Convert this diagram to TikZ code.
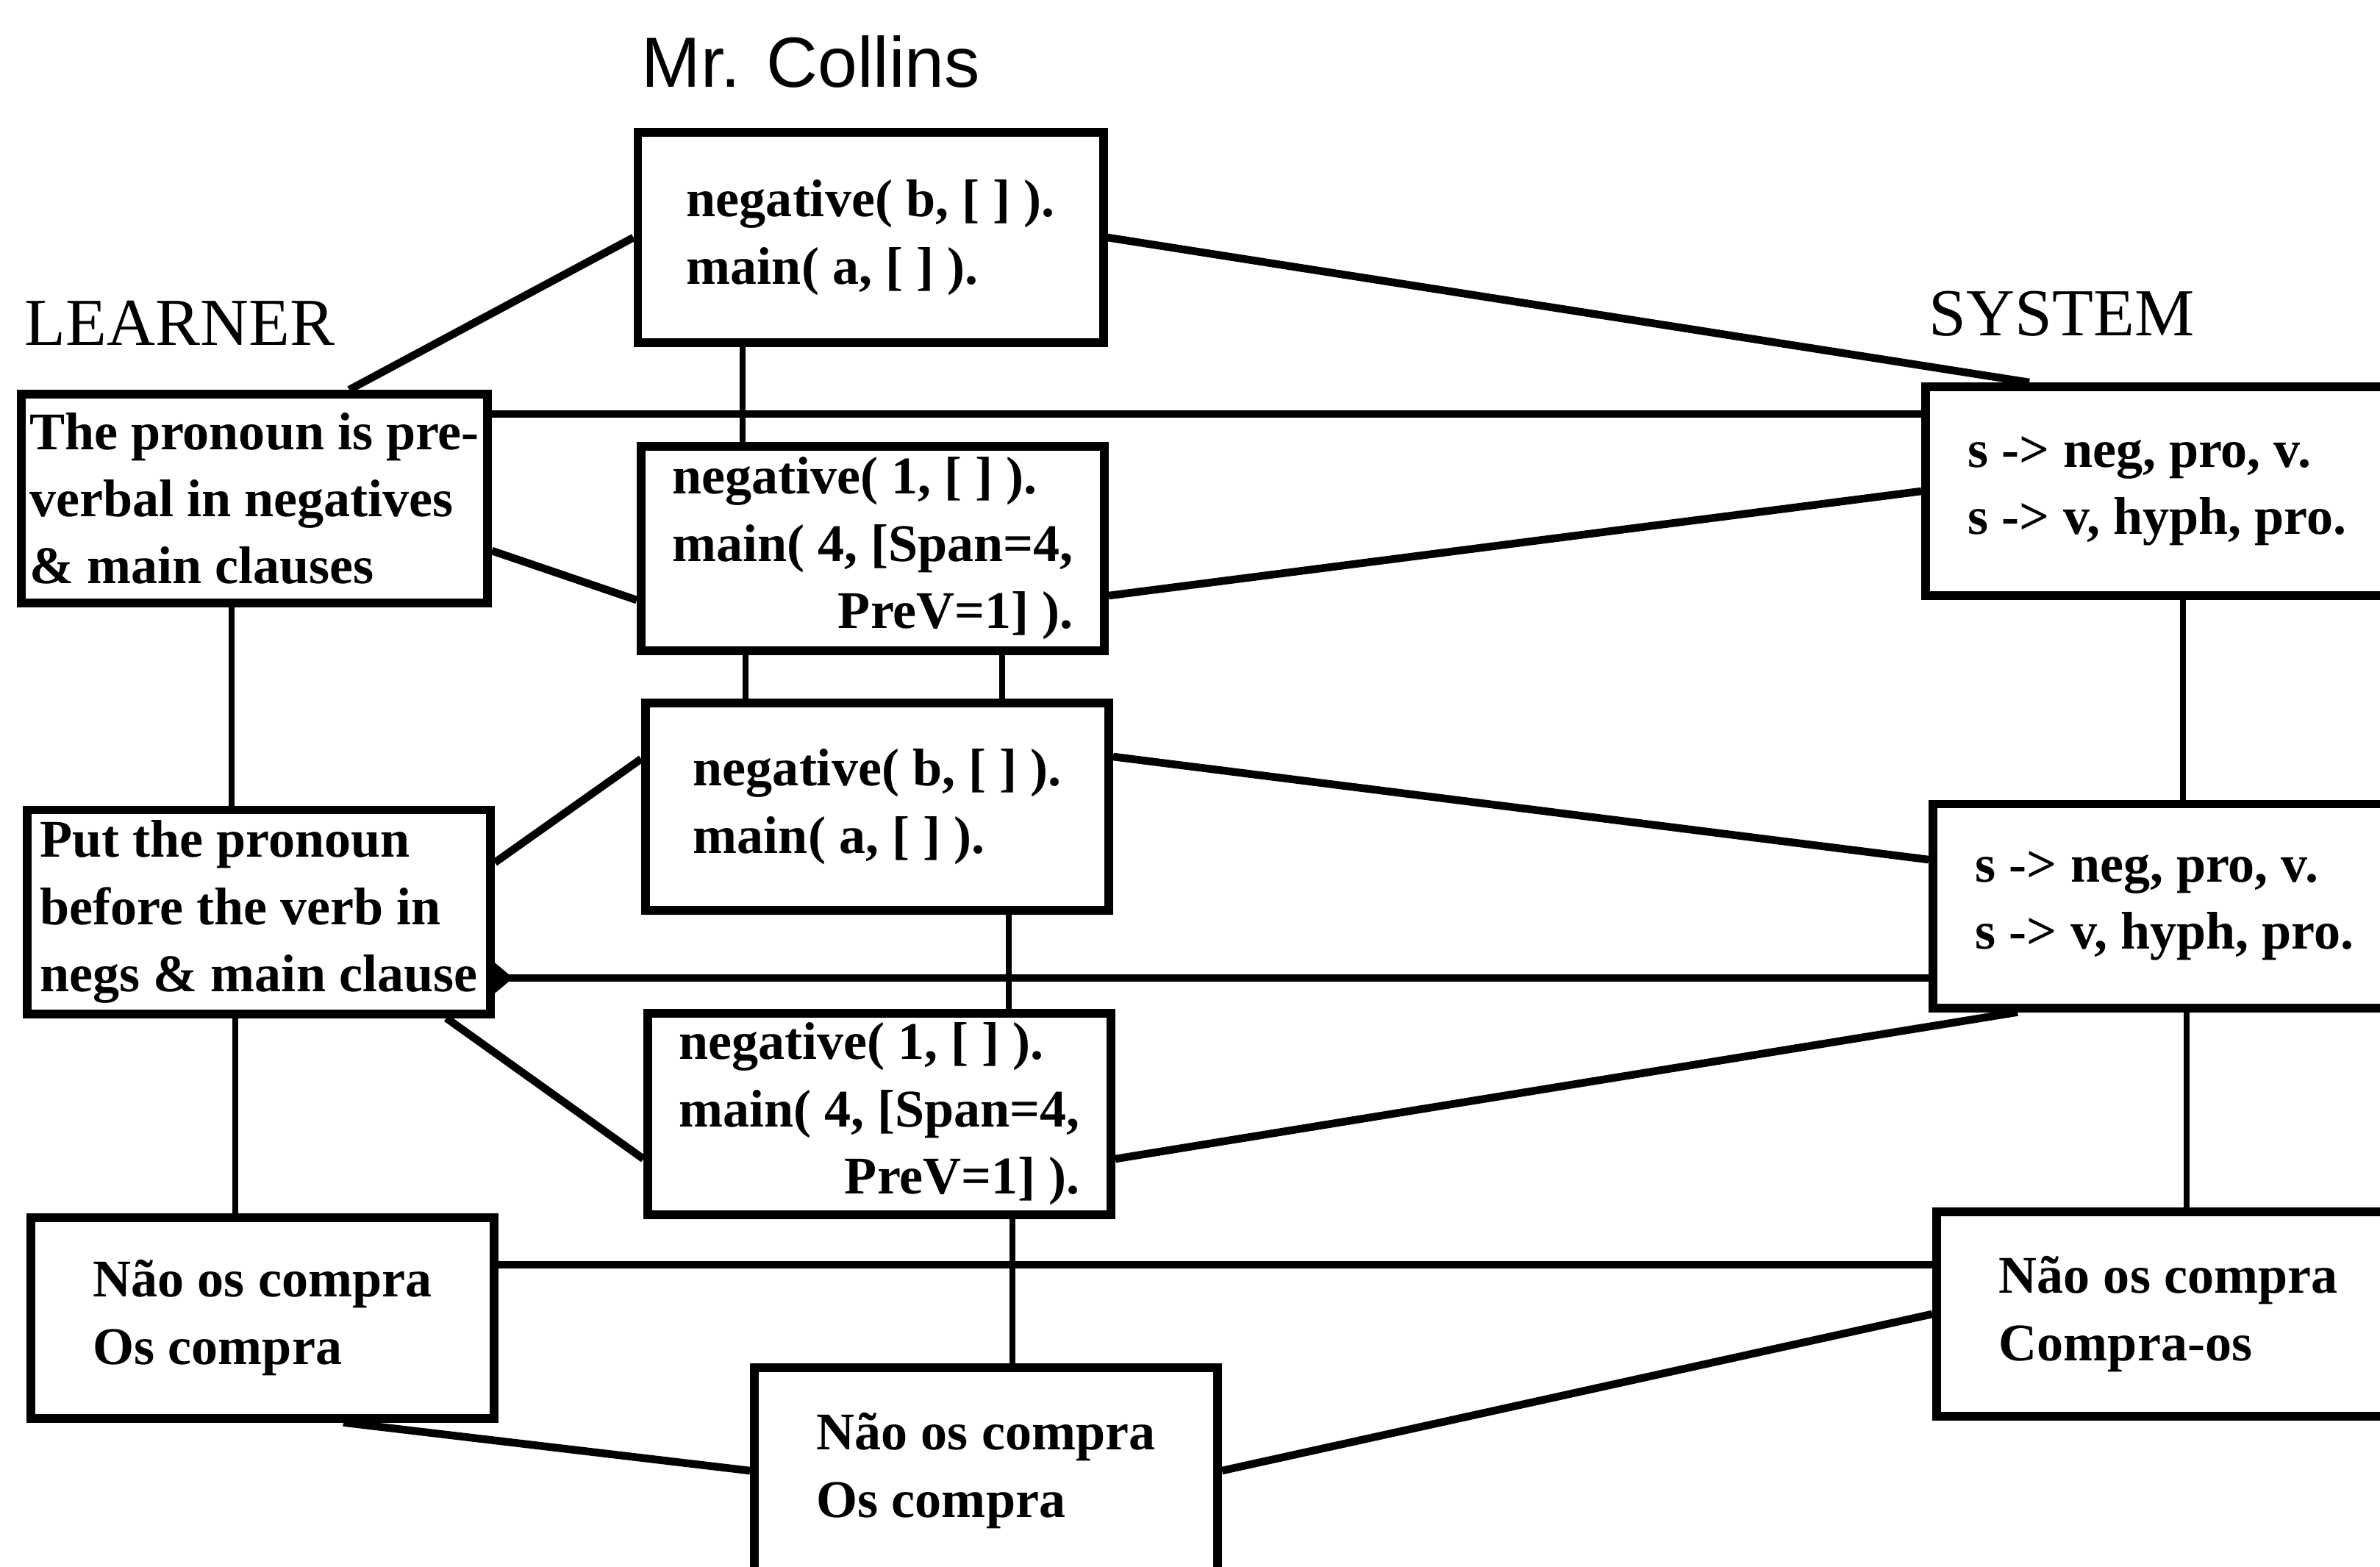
\documentclass[tikz,border=0pt]{standalone}
\usepackage{fontspec}
\setmainfont{Liberation Serif}
\newfontfamily\collinsfont{Liberation Sans}
\usetikzlibrary{arrows.meta}

\tikzset{
	box/.style={draw, line width=3.4pt, minimum width=6.3cm, minimum height=2.8cm, align=left, inner sep=0pt, font=\bfseries\fontsize{20.5}{26}\selectfont},
	link/.style={line width=3pt},
	stem/.style={line width=2.5pt},
	head/.style={anchor=base west, inner sep=0pt}
}

\begin{document}
\begin{tikzpicture}
	\useasboundingbox (0,0) rectangle (32.37,-21.30);
	\node[head, font=\collinsfont\fontsize{27.5}{28}\selectfont] (collins) at (8.72,-1.18) {Mr. Collins};
	\node[head, font=\fontsize{26}{27}\selectfont] (learner) at (0.33,-4.69) {LEARNER};
	\node[head, font=\fontsize{26}{27}\selectfont] (system) at (26.23,-4.56) {SYSTEM};
	\node[box, minimum width=6.33cm, minimum height=2.86cm] (m1) at (11.84,-3.23) {negative( b, [ ] ).\\main( a, [ ] ).};
	\node[box, minimum height=2.78cm] (m2) at (11.87,-7.46) {negative( 1, [ ] ).\\main( 4, [Span=4,\\\hspace*{\fill}PreV=1] ).};
	\node[box, minimum height=2.82cm] (m3) at (11.93,-10.97) {negative( b, [ ] ).\\main( a, [ ] ).};
	\node[box, minimum height=2.74cm] (m4) at (11.96,-15.15) {negative( 1, [ ] ).\\main( 4, [Span=4,\\\hspace*{\fill}PreV=1] ).};
	\node[box] (m5) at (13.41,-20.00) {Não os compra\\Os compra};
	\node[box, minimum width=6.34cm, minimum height=2.84cm] (l1) at (3.46,-6.78) {The pronoun is pre-\\verbal in negatives\\\& main clauses};
	\node[box, minimum height=2.77cm] (l2) at (3.52,-12.40) {Put the pronoun\\before the verb in\\negs \& main clause};
	\node[box, minimum height=2.73cm] (l3) at (3.57,-17.92) {Não os compra\\Os compra};
	\node[box, minimum height=2.84cm] (s1) at (29.34,-6.68) {s -> neg, pro, v.\\s -> v, hyph, pro.};
	\node[box, minimum height=2.77cm] (s2) at (29.44,-12.32) {s -> neg, pro, v.\\s -> v, hyph, pro.};
	\node[box, minimum height=2.78cm] (s3) at (29.49,-17.87) {Não os compra\\Compra-os};
	\draw[link] ([xshift=1.29cm]l1.north) -- (m1.west);
	\draw[link] (m1.east) -- ([xshift=-1.74cm]s1.north);
	\draw[link] ([yshift=1.15cm]l1.east) -- ([yshift=1.15cm]l1.east -| s1.west);
	\draw[stem] ([xshift=-1.74cm]m1.south) -- ([xshift=-1.74cm]m1.south |- m2.north);
	\draw[link] ([yshift=-0.71cm]l1.east) -- ([yshift=-0.7cm]m2.west);
	\draw[link] ([yshift=-0.64cm]m2.east) -- (s1.west);
	\draw[stem] ([xshift=-0.31cm]l1.south) -- ([xshift=-0.31cm]l1.south |- l2.north);
	\draw[stem] ([xshift=0.35cm]s1.south) -- ([xshift=0.35cm]s1.south |- s2.north);
	\draw[stem] ([xshift=-1.73cm]m2.south) -- ([xshift=-1.73cm]m2.south |- m3.north);
	\draw[stem] ([xshift=1.76cm]m2.south) -- ([xshift=1.76cm]m2.south |- m3.north);
	\draw[link] ([yshift=0.67cm]l2.east) -- ([yshift=0.65cm]m3.west);
	\draw[link] ([yshift=0.68cm]m3.east) -- ([yshift=0.63cm]s2.west);
	\draw[link, {Triangle[reversed, length=0.25cm, width=0.4cm]}-] ([yshift=-0.9cm]l2.east) -- ([yshift=-0.9cm]l2.east -| s2.west);
	\draw[stem] ([xshift=1.79cm]m3.south) -- ([xshift=1.79cm]m3.south |- m4.north);
	\draw[link] ([xshift=2.55cm]l2.south) -- ([yshift=-0.61cm]m4.west);
	\draw[link] ([yshift=-0.61cm]m4.east) -- ([xshift=-2.0cm]s2.south);
	\draw[stem] ([xshift=-0.32cm]l2.south) -- ([xshift=-0.32cm]l2.south |- l3.north);
	\draw[stem] ([xshift=0.3cm]s2.south) -- ([xshift=0.3cm]s2.south |- s3.north);
	\draw[link] ([yshift=0.72cm]l3.east) -- ([yshift=0.72cm]l3.east -| s3.west);
	\draw[stem] ([xshift=1.81cm]m4.south) -- ([xshift=1.81cm]m4.south |- m5.north);
	\draw[link] ([xshift=1.1cm]l3.south) -- (m5.west);
	\draw[link] (m5.east) -- (s3.west);
\end{tikzpicture}
\end{document}
